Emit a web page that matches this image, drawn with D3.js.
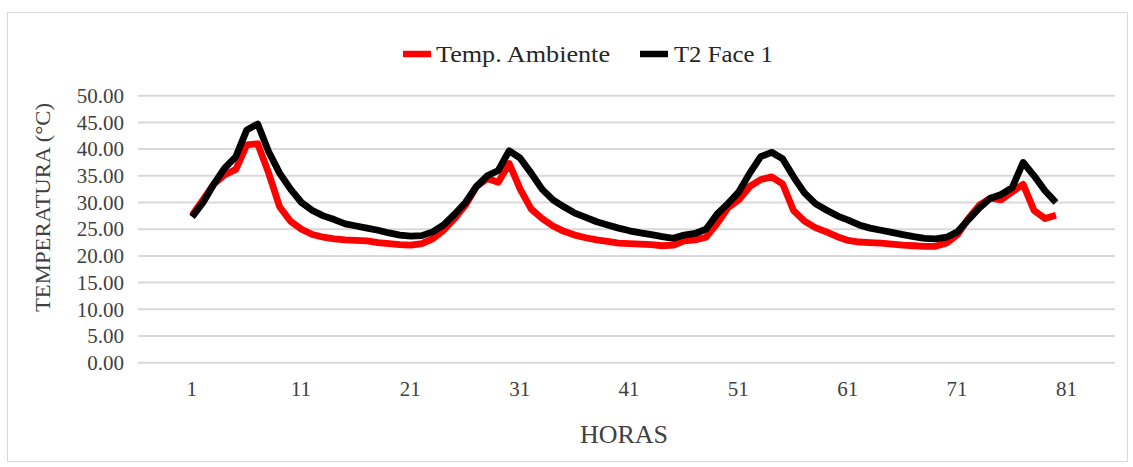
<!DOCTYPE html>
<html><head><meta charset="utf-8">
<script src="https://cdn.jsdelivr.net/npm/d3@7"></script>
<style>body{margin:0;background:#fff}svg{display:block}</style>
</head><body><svg id="c" width="1133" height="467"></svg>
<script>
const hours = d3.range(1, 81);
const seriesNames = ["Temp. Ambiente", "T2 Face 1"];
const seriesColors = ["#ff0000", "#000000"];
const tempAmbiente = [27.6,30.5,33.5,35.2,36.2,40.8,41.0,35.5,29.2,26.5,
  25.0,24.0,23.5,23.2,23.0,22.9,22.8,22.5,22.3,22.1,
  22.0,22.3,23.2,24.8,27.0,29.5,33.0,34.5,33.8,37.3,
  32.5,28.8,27.0,25.6,24.6,23.9,23.4,23.0,22.7,22.4,
  22.3,22.2,22.1,21.9,22.0,22.8,23.0,23.5,26.0,29.0,
  30.5,33.0,34.3,34.8,33.5,28.5,26.5,25.3,24.5,23.6,
  22.9,22.6,22.5,22.4,22.2,22.0,21.9,21.8,21.8,22.4,
  24.0,27.0,29.5,30.8,30.5,32.0,33.4,28.5,27.0,27.6];
const t2Face1 = [27.3,30.0,33.5,36.5,38.6,43.6,44.7,39.5,35.5,32.5,
  30.0,28.5,27.5,26.8,26.0,25.6,25.2,24.8,24.3,23.9,
  23.7,23.8,24.5,25.8,27.8,30.0,33.0,35.0,36.0,39.7,
  38.3,35.5,32.5,30.5,29.2,28.0,27.2,26.4,25.8,25.2,
  24.7,24.3,24.0,23.6,23.3,23.9,24.2,25.0,27.8,29.8,
  32.0,35.5,38.6,39.4,38.2,34.8,31.8,29.8,28.6,27.5,
  26.7,25.8,25.2,24.8,24.4,24.0,23.6,23.3,23.2,23.5,
  24.5,26.8,29.0,30.8,31.5,32.8,37.5,35.0,32.2,30.0];
const xTickValues = [1,11,21,31,41,51,61,71,81];
const yTickValues = [0,5,10,15,20,25,30,35,40,45,50];

const svg = d3.select("#c");
const font = "'Liberation Serif', 'Times New Roman', serif";
svg.append("rect").attr("x",7.5).attr("y",12.5).attr("width",1120).attr("height",449)
  .attr("fill","none").attr("stroke","#d9d9d9").attr("stroke-width",1);

const x = d3.scaleLinear().domain([-3.95, 85.4]).range([138, 1115]);
const y = d3.scaleLinear().domain([0, 50]).range([362.7, 95.7]);

svg.append("g").selectAll("line").data(yTickValues).join("line")
  .attr("x1", 138).attr("x2", 1115)
  .attr("y1", d => y(d)).attr("y2", d => y(d))
  .attr("stroke", "#d9d9d9").attr("stroke-width", 2);

const yAxis = d3.axisLeft(y).tickValues(yTickValues).tickFormat(d3.format(".2f")).tickSize(0).tickPadding(0);
const gy = svg.append("g").attr("transform","translate(124,0)").call(yAxis);
gy.select(".domain").remove();
gy.selectAll("text").attr("font-family", font).attr("font-size", 21).attr("fill","#404040");

const xAxis = d3.axisBottom(x).tickValues(xTickValues).tickFormat(d3.format("d")).tickSize(0).tickPadding(0);
const gx = svg.append("g").attr("transform","translate(-1,381)").call(xAxis);
gx.select(".domain").remove();
gx.selectAll("text").attr("font-family", font).attr("font-size", 21).attr("fill","#404040");

const line = d3.line().x((d,i) => x(hours[i])).y(d => y(d));
[tempAmbiente, t2Face1].forEach((s, k) => {
  svg.append("path").datum(s).attr("d", line)
    .attr("fill","none").attr("stroke", seriesColors[k]).attr("stroke-width", 6.8)
    .attr("stroke-linejoin","round");
});

svg.append("text").attr("x", 624).attr("y", 443).attr("text-anchor","middle")
  .attr("font-family", font).attr("font-size", 25).attr("fill","#404040")
  .attr("textLength", 88).attr("lengthAdjust","spacingAndGlyphs").text("HORAS");
svg.append("text").attr("transform","translate(50,207.5) rotate(-90)").attr("text-anchor","middle")
  .attr("font-family", font).attr("font-size", 22).attr("fill","#404040")
  .attr("textLength", 209).attr("lengthAdjust","spacingAndGlyphs").text("TEMPERATURA (°C)");

const legend = [{sx:403, tx:436, tw:174}, {sx:640, tx:674, tw:99}];
legend.forEach((L, k) => {
  svg.append("line").attr("x1", L.sx).attr("x2", L.sx+28).attr("y1", 54).attr("y2", 54)
    .attr("stroke", seriesColors[k]).attr("stroke-width", 6.5);
  svg.append("text").attr("x", L.tx).attr("y", 62).attr("font-family", font).attr("font-size", 24)
    .attr("fill","#262626").attr("textLength", L.tw).attr("lengthAdjust","spacingAndGlyphs").text(seriesNames[k]);
});
</script></body></html>
